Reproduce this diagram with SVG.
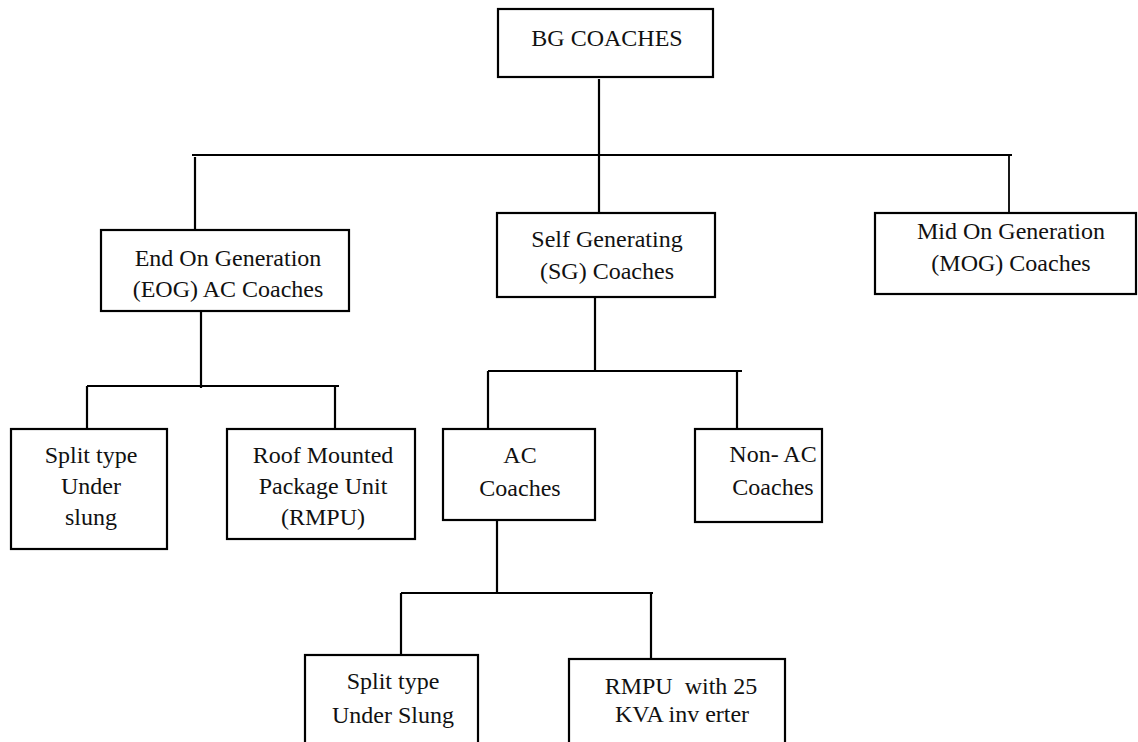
<svg xmlns="http://www.w3.org/2000/svg" width="1138" height="742" viewBox="0 0 1138 742">
<style>
.box{fill:#fff;stroke:#000;stroke-width:2.2}
.conn line{stroke:#000;stroke-width:2.2}
.t{font-family:"Liberation Serif","Times New Roman",serif;font-size:24px;fill:#111;text-anchor:middle}
</style>
<rect x="0" y="0" width="1138" height="742" fill="#fff"/>
<g id="connectors" class="conn">
<line x1="599" y1="79" x2="599" y2="155"/>
<line x1="192" y1="155" x2="1012" y2="155"/>
<line x1="195" y1="157" x2="195" y2="230"/>
<line x1="599" y1="155" x2="599" y2="213"/>
<line x1="1009" y1="155" x2="1009" y2="213" style="stroke-width:1.8"/>
<line x1="201" y1="309" x2="201" y2="388"/>
<line x1="87" y1="386" x2="339" y2="386"/>
<line x1="87" y1="386" x2="87" y2="429"/>
<line x1="335" y1="386" x2="335" y2="429"/>
<line x1="595" y1="295" x2="595" y2="371"/>
<line x1="488" y1="371" x2="742" y2="371"/>
<line x1="488" y1="371" x2="488" y2="429"/>
<line x1="737" y1="371" x2="737" y2="429"/>
<line x1="497" y1="517" x2="497" y2="594"/>
<line x1="401" y1="593" x2="653" y2="593"/>
<line x1="401" y1="593" x2="401" y2="655"/>
<line x1="651" y1="593" x2="651" y2="664"/>
</g>
<g id="bg">
<rect class="box" x="498" y="9" width="215" height="68"/>
<text class="t" x="607" y="46">BG COACHES</text>
</g>
<g id="eog">
<rect class="box" x="101" y="230" width="248" height="81"/>
<text class="t" x="228" y="266">End On Generation</text>
<text class="t" x="228" y="297">(EOG) AC Coaches</text>
</g>
<g id="sg">
<rect class="box" x="497" y="213" width="218" height="84"/>
<text class="t" x="607" y="247">Self Generating</text>
<text class="t" x="607" y="279">(SG) Coaches</text>
</g>
<g id="mog">
<rect class="box" x="875" y="213" width="261" height="81"/>
<text class="t" x="1011" y="239">Mid On Generation</text>
<text class="t" x="1011" y="271">(MOG) Coaches</text>
</g>
<g id="split1">
<rect class="box" x="11" y="429" width="156" height="120"/>
<text class="t" x="91" y="463">Split type</text>
<text class="t" x="91" y="494">Under</text>
<text class="t" x="91" y="525">slung</text>
</g>
<g id="rmpu1">
<rect class="box" x="227" y="429" width="188" height="110"/>
<text class="t" x="323" y="463">Roof Mounted</text>
<text class="t" x="323" y="494">Package Unit</text>
<text class="t" x="323" y="525">(RMPU)</text>
</g>
<g id="ac">
<rect class="box" x="443" y="429" width="152" height="91"/>
<text class="t" x="520" y="463">AC</text>
<text class="t" x="520" y="496">Coaches</text>
</g>
<g id="nonac">
<rect class="box" x="695" y="429" width="127" height="93"/>
<text class="t" x="773" y="462">Non- AC</text>
<text class="t" x="773" y="495">Coaches</text>
</g>
<g id="split2">
<rect class="box" x="305" y="655" width="173" height="100"/>
<text class="t" x="393" y="689">Split type</text>
<text class="t" x="393" y="723">Under Slung</text>
</g>
<g id="rmpu2">
<rect class="box" x="569" y="659" width="216" height="100"/>
<text class="t" x="681" y="694">RMPU &#160;with 25</text>
<text class="t" x="682" y="722">KVA inv erter</text>
</g>
</svg>
